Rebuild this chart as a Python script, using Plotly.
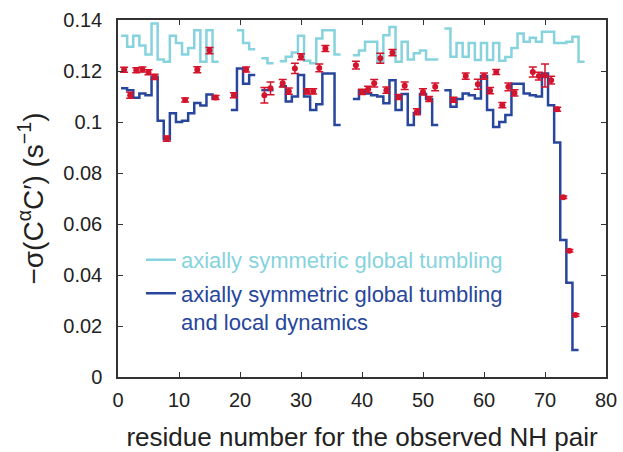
import plotly.graph_objects as go

# ---- data -------------------------------------------------------------
residues = list(range(1, 77))

global_tumbling = [
    0.1338, 0.1295, 0.1338, 0.1300, 0.1265, 0.1386, 0.1245, 0.1236, 0.1338, 0.1310,
    0.1265, 0.1290, 0.1360, 0.1236, 0.1360, 0.1236, None, None, None, 0.1360,
    0.1310, 0.1285, None, 0.1250, 0.1230, None, 0.1238, 0.1256, 0.1273, 0.1338,
    0.1240, 0.1230, 0.1327, 0.1360, 0.1360, 0.1265, None, None, 0.1262, 0.1280,
    0.1315, 0.1315, 0.1236, 0.1340, 0.1373, 0.1236, 0.1315, 0.1245, 0.1270, 0.1280,
    0.1245, 0.1245, None, 0.1367, 0.1256, 0.1310, 0.1256, 0.1310, 0.1243, 0.1310,
    0.1243, 0.1310, 0.1240, 0.1255, 0.1290, 0.1347, 0.1315, 0.1330, 0.1315, 0.1354,
    0.1354, 0.1310, 0.1310, 0.1315, 0.1334, 0.1236,
]

local_dynamics = [
    0.1132, 0.1125, 0.1095, 0.1112, 0.1105, 0.1177, 0.1005, 0.0932, 0.1034, 0.1000,
    0.1005, 0.1034, 0.1075, 0.1065, 0.1108, 0.1092, None, None, 0.1047, 0.1210,
    0.1150, 0.1184, None, 0.1125, 0.1125, None, 0.1140, 0.1080, 0.1100, 0.1184,
    0.1100, 0.1047, 0.1070, 0.1190, 0.1190, 0.0988, None, None, 0.1090, 0.1125,
    0.1112, 0.1105, 0.1100, 0.1074, 0.1164, 0.1047, 0.1110, 0.0988, 0.1035, 0.1110,
    0.1090, 0.0988, None, 0.1125, 0.1060, 0.1090, 0.1112, 0.1105, 0.1092, 0.1180,
    0.1047, 0.0980, 0.1000, 0.1027, 0.1150, 0.1150, 0.1112, 0.1105, 0.1100, 0.1190,
    0.1066, 0.0920, 0.0537, 0.0370, 0.0106, None,
]

obs_residues = [1, 2, 3, 4, 5, 6, 8, 11, 13, 15, 16, 19, 21, 24, 25, 27, 28, 29, 30, 31,
                32, 33, 34, 39, 40, 41, 42, 43, 44, 45, 46, 47, 49, 50, 51, 52, 55, 57, 59, 60,
                61, 62, 63, 64, 65, 68, 69, 70, 71, 72, 73, 74, 75]
obs_values = [0.1205, 0.1105, 0.1203, 0.1206, 0.1195, 0.1177, 0.0935, 0.1086, 0.1205, 0.1280,
              0.1096, 0.1105, 0.1206, 0.1105, 0.1132, 0.1152, 0.1121, 0.1210, 0.1256, 0.1120,
              0.1120, 0.1212, 0.1288, 0.1223, 0.1118, 0.1128, 0.1152, 0.1250, 0.1125, 0.1272,
              0.1098, 0.1142, 0.1040, 0.1118, 0.1090, 0.1138, 0.1087, 0.1180, 0.1148, 0.1180,
              0.1123, 0.1196, 0.1066, 0.1138, 0.1114, 0.1196, 0.1180, 0.1182, 0.1164, 0.1050,
              0.0705, 0.0495, 0.0243]
obs_errors = [0.0010, 0.0012, 0.0010, 0.0010, 0.0010, 0.0010, 0.0010, 0.0008, 0.0012, 0.0012,
              0.0008, 0.0010, 0.0010, 0.0030, 0.0025, 0.0015, 0.0012, 0.0020, 0.0012, 0.0010,
              0.0010, 0.0015, 0.0012, 0.0015, 0.0010, 0.0012, 0.0015, 0.0020, 0.0012, 0.0012,
              0.0010, 0.0015, 0.0012, 0.0012, 0.0010, 0.0015, 0.0010, 0.0012, 0.0020, 0.0012,
              0.0012, 0.0010, 0.0010, 0.0015, 0.0012, 0.0020, 0.0015, 0.0045, 0.0015, 0.0008,
              0.0005, 0.0005, 0.0005]

x_ticks = [0, 10, 20, 30, 40, 50, 60, 70, 80]
y_ticks = [0, 0.02, 0.04, 0.06, 0.08, 0.1, 0.12, 0.14]
y_tick_text = ["0", "0.02", "0.04", "0.06", "0.08", "0.1", "0.12", "0.14"]

CYAN = "#86d3de"
BLUE = "#27469c"
RED = "#d3142c"
FONT = "Liberation Sans, Arial, sans-serif"


def steps(res, vals):
    """Per-residue steps of full width; None breaks the line."""
    xs, ys = [], []
    for r, v in zip(res, vals):
        if v is None:
            if xs and xs[-1] is not None:
                xs.append(None)
                ys.append(None)
            continue
        xs += [r - 0.5, r + 0.5]
        ys += [v, v]
    return xs, ys


fig = go.Figure()

cx, cy = steps(residues, global_tumbling)
fig.add_trace(go.Scatter(
    x=cx, y=cy, mode="lines", connectgaps=False,
    line=dict(color=CYAN, width=2.5),
    name=f"<span style='color:{CYAN}'>axially symmetric global tumbling</span>",
    legendgroup="a",
))

bx, by = steps(residues, local_dynamics)
fig.add_trace(go.Scatter(
    x=bx, y=by, mode="lines", connectgaps=False,
    line=dict(color=BLUE, width=2.5),
    name=f"<span style='color:{BLUE}'>axially symmetric global tumbling<br>and local dynamics</span>",
    legendgroup="b",
))

fig.add_trace(go.Scatter(
    x=obs_residues, y=obs_values, mode="markers",
    marker=dict(color=RED, size=6, symbol="circle"),
    error_y=dict(type="data", array=obs_errors, color=RED, thickness=1.5, width=4),
    showlegend=False,
))

axis_common = dict(
    showline=True, linecolor="#333333", linewidth=1.5, mirror="allticks",
    ticks="inside", ticklen=5, tickcolor="#333333", tickwidth=1.2,
    showgrid=False, zeroline=False, automargin=False,
    tickfont=dict(family=FONT, size=20, color="#222222"),
)

fig.update_xaxes(
    range=[0, 80], tickvals=x_ticks, ticklabelstandoff=4,
    title=dict(text="residue number for the observed NH pair",
               font=dict(family=FONT, size=26, color="#222222"),
               standoff=24),
    **axis_common,
)
fig.update_yaxes(
    range=[0, 0.14], tickvals=y_ticks, ticktext=y_tick_text, ticklabelstandoff=10,
    title=dict(text="−σ(C<sup>α</sup>C′) (s<sup>−1</sup>)",
               font=dict(family=FONT, size=28, color="#222222"),
               standoff=12),
    **axis_common,
)

fig.update_layout(
    width=623, height=452,
    margin=dict(l=118, r=17, t=20, b=75),
    paper_bgcolor="white", plot_bgcolor="white",
    showlegend=True,
    legend=dict(
        x=0.047, y=0.387, xanchor="left", yanchor="top",
        bgcolor="rgba(0,0,0,0)", borderwidth=0,
        font=dict(family=FONT, size=22),
        valign="top", tracegroupgap=2,
    ),
)

fig.write_html("out.html")
